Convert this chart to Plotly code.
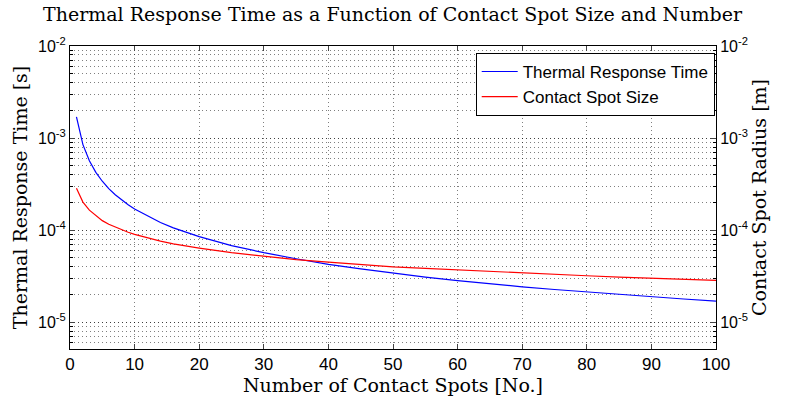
import plotly.graph_objects as go

# Number of contact spots
n_spots = [1, 2, 3, 4, 5, 6, 7, 8, 9, 10, 12, 14, 16, 18, 20, 25, 30, 35, 40, 45,
           50, 55, 60, 65, 70, 75, 80, 85, 90, 95, 100]
# Thermal response time [s]
response_time = [1.70e-3, 8.5e-4, 5.67e-4, 4.25e-4, 3.40e-4, 2.83e-4, 2.43e-4, 2.13e-4,
                 1.89e-4, 1.70e-4, 1.42e-4, 1.21e-4, 1.06e-4, 9.4e-5, 8.5e-5, 6.8e-5,
                 5.7e-5, 4.9e-5, 4.25e-5, 3.8e-5, 3.4e-5, 3.1e-5, 2.83e-5, 2.6e-5,
                 2.43e-5, 2.27e-5, 2.13e-5, 2.0e-5, 1.89e-5, 1.79e-5, 1.70e-5]
# Contact spot radius [m]
spot_radius = [2.85e-4, 2.02e-4, 1.65e-4, 1.43e-4, 1.27e-4, 1.16e-4, 1.08e-4, 1.01e-4,
               9.5e-5, 9.0e-5, 8.2e-5, 7.6e-5, 7.1e-5, 6.7e-5, 6.4e-5, 5.7e-5, 5.2e-5,
               4.8e-5, 4.5e-5, 4.25e-5, 4.0e-5, 3.85e-5, 3.7e-5, 3.55e-5, 3.4e-5,
               3.3e-5, 3.2e-5, 3.1e-5, 3.0e-5, 2.92e-5, 2.85e-5]

x_ticks = [0, 10, 20, 30, 40, 50, 60, 70, 80, 90, 100]
y_tickvals = [1e-5, 1e-4, 1e-3, 1e-2]
y_ticktext = ["10<sup>-5</sup>", "10<sup>-4</sup>", "10<sup>-3</sup>", "10<sup>-2</sup>"]

serif = "DejaVu Serif"
sans = "Liberation Sans"
gridc = "rgba(0,0,0,0.5)"
gdash = "1px,3px"

fig = go.Figure()
fig.add_trace(go.Scatter(x=n_spots, y=response_time, mode="lines", name="Thermal Response Time",
                         line=dict(color="#0000ff", width=1.2), yaxis="y"))
fig.add_trace(go.Scatter(x=n_spots, y=spot_radius, mode="lines", name="Contact Spot Size",
                         line=dict(color="#ff0000", width=1.2), yaxis="y2"))

yrange = [-5.29, -2]
fig.update_layout(
    width=785, height=400,
    margin=dict(l=70, r=69, t=46, b=51),
    paper_bgcolor="white", plot_bgcolor="white",
    title=dict(text="Thermal Response Time as a Function of Contact Spot Size and Number",
               x=0.5, xanchor="center", y=0.98, yanchor="top",
               font=dict(family=serif, size=19, color="black")),
    xaxis=dict(range=[0, 100], tickvals=x_ticks, ticks="inside", ticklen=5,
               showline=True, linecolor="black", linewidth=1, mirror="ticks",
               showgrid=True, gridcolor=gridc, griddash=gdash, gridwidth=1,
               zeroline=False,
               tickfont=dict(family=sans, size=17, color="black"),
               title=dict(text="Number of Contact Spots [No.]", standoff=0,
                          font=dict(family=serif, size=19, color="black"))),
    yaxis=dict(type="log", range=yrange, tickvals=y_tickvals, ticktext=y_ticktext,
               ticks="inside", ticklen=5,
               showline=True, linecolor="black", linewidth=1,
               showgrid=True, gridcolor=gridc, griddash=gdash, gridwidth=1,
               minor=dict(dtick="D1", ticks="inside", ticklen=3, tickcolor="black",
                          showgrid=True, gridcolor=gridc, griddash=gdash, gridwidth=1),
               tickfont=dict(family=sans, size=16, color="black"),
               title=dict(text="Thermal Response Time [s]", standoff=5,
                          font=dict(family=serif, size=19, color="black"))),
    yaxis2=dict(type="log", range=yrange, tickvals=y_tickvals, ticktext=y_ticktext,
                overlaying="y", side="right", ticks="inside", ticklen=5,
                showline=True, linecolor="black", linewidth=1, showgrid=False,
                minor=dict(dtick="D1", ticks="inside", ticklen=3, tickcolor="black",
                           showgrid=False),
                tickfont=dict(family=sans, size=16, color="black"),
                title=dict(text="Contact Spot Radius [m]", standoff=5,
                           font=dict(family=serif, size=19, color="black"))),
    legend=dict(x=0.998, y=0.977, xanchor="right", yanchor="top",
                bgcolor="white", bordercolor="black", borderwidth=1,
                font=dict(family=sans, size=17, color="black"),
                tracegroupgap=0, itemwidth=36),
    showlegend=True,
)

fig.write_html("out.html")
